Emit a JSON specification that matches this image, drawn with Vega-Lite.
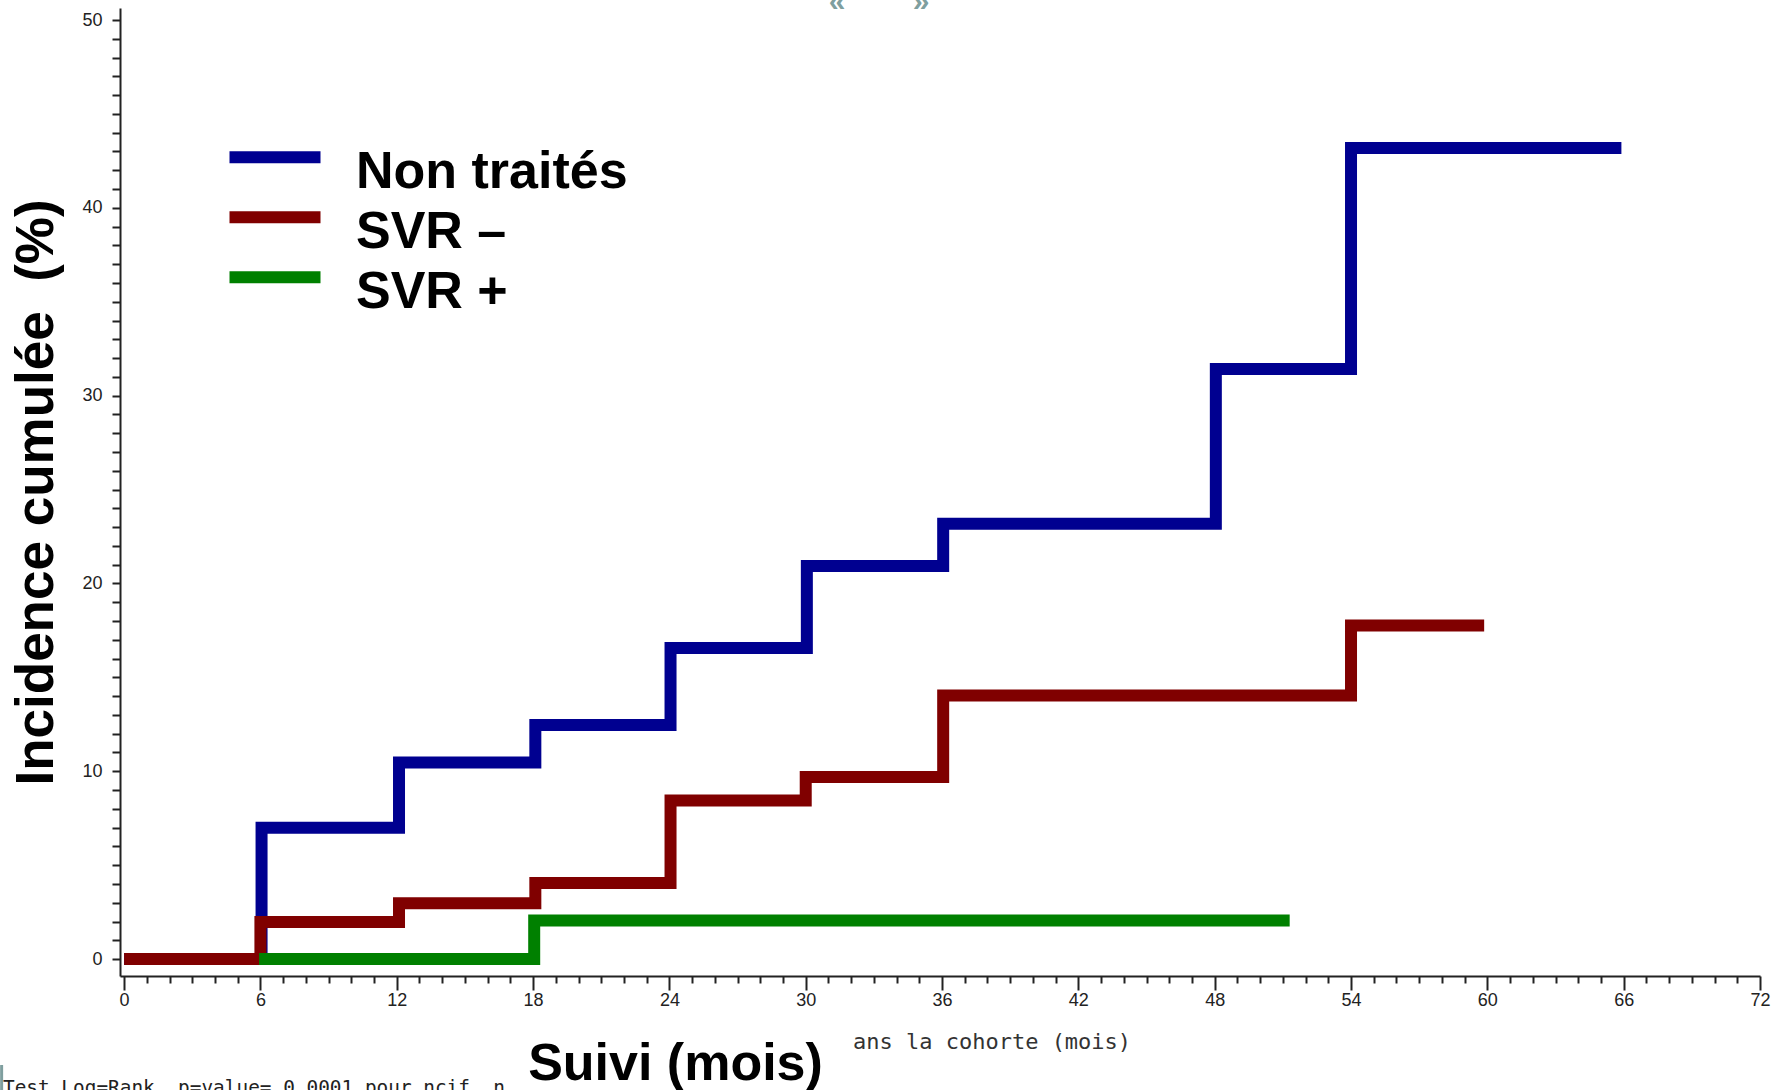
{
  "$schema": "https://vega.github.io/schema/vega-lite/v6.json",
  "width": 1640,
  "height": 968,
  "autosize": {"type": "none"},
  "padding": {"left": 120, "top": 8, "right": 24, "bottom": 114},
  "background": "white",
  "config": {"view": {"stroke": null}, "axis": {"grid": false}},
  "layer": [
    {
      "data": {
        "values": [
          {"groupe": "Non traités", "mois": 0, "pct": 0},
          {"groupe": "Non traités", "mois": 6.05, "pct": 7.0},
          {"groupe": "Non traités", "mois": 12.1, "pct": 10.47},
          {"groupe": "Non traités", "mois": 18.1, "pct": 12.47},
          {"groupe": "Non traités", "mois": 24.05, "pct": 16.57},
          {"groupe": "Non traités", "mois": 30.05, "pct": 20.93},
          {"groupe": "Non traités", "mois": 36.05, "pct": 23.18},
          {"groupe": "Non traités", "mois": 48.05, "pct": 31.42},
          {"groupe": "Non traités", "mois": 54.0, "pct": 43.18},
          {"groupe": "Non traités", "mois": 65.9, "pct": 43.18},
          {"groupe": "SVR –", "mois": 0, "pct": 0},
          {"groupe": "SVR –", "mois": 6.0, "pct": 1.97},
          {"groupe": "SVR –", "mois": 12.1, "pct": 2.98},
          {"groupe": "SVR –", "mois": 18.1, "pct": 4.05},
          {"groupe": "SVR –", "mois": 24.05, "pct": 8.44},
          {"groupe": "SVR –", "mois": 30.0, "pct": 9.69},
          {"groupe": "SVR –", "mois": 36.05, "pct": 14.04},
          {"groupe": "SVR –", "mois": 54.0, "pct": 17.76},
          {"groupe": "SVR –", "mois": 59.86, "pct": 17.76},
          {"groupe": "SVR +", "mois": 5.94, "pct": 0},
          {"groupe": "SVR +", "mois": 18.05, "pct": 2.05},
          {"groupe": "SVR +", "mois": 51.3, "pct": 2.05}
        ]
      },
      "mark": {"type": "line", "interpolate": "step-after", "strokeWidth": 12, "strokeJoin": "miter", "strokeCap": "butt"},
      "encoding": {
        "x": {
          "field": "mois", "type": "quantitative",
          "scale": {"domain": [-0.18, 72], "nice": false, "zero": false},
          "axis": {
            "title": "Suivi (mois)",
            "values": [0,1,2,3,4,5,6,7,8,9,10,11,12,13,14,15,16,17,18,19,20,21,22,23,24,25,26,27,28,29,30,31,32,33,34,35,36,37,38,39,40,41,42,43,44,45,46,47,48,49,50,51,52,53,54,55,56,57,58,59,60,61,62,63,64,65,66,67,68,69,70,71,72],
            "tickCount": 200,
            "format": "d",
            "labelExpr": "datum.value % 6 === 0 ? datum.label : ''",
            "tickSize": {"condition": {"test": "datum.value % 6 === 0", "value": 14}, "value": 7},
            "tickWidth": 2, "tickColor": "#222",
            "domainColor": "#222", "domainWidth": 2,
            "labelFont": "Liberation Sans", "labelFontSize": 18, "labelColor": "#222",
            "labelPadding": 1, "labelOverlap": false, "labelFlush": false,
            "titleFont": "Liberation Sans", "titleFontSize": 52, "titleFontWeight": "bold", "titleColor": "black",
            "titleX": 555, "titleY": 103, "titleAlign": "center", "titleBaseline": "alphabetic"
          }
        },
        "y": {
          "field": "pct", "type": "quantitative",
          "scale": {"domain": [-0.9, 50.64], "nice": false, "zero": false},
          "axis": {
            "title": "Incidence cumulée\u00a0\u00a0(%)",
            "values": [0,1,2,3,4,5,6,7,8,9,10,11,12,13,14,15,16,17,18,19,20,21,22,23,24,25,26,27,28,29,30,31,32,33,34,35,36,37,38,39,40,41,42,43,44,45,46,47,48,49,50],
            "tickCount": 200,
            "format": "d",
            "labelExpr": "datum.value % 10 === 0 ? datum.label : ''",
            "tickSize": 8, "tickWidth": 2, "tickColor": "#222",
            "domainColor": "#222", "domainWidth": 2,
            "labelFont": "Liberation Sans", "labelFontSize": 18, "labelColor": "#222",
            "labelPadding": 10, "labelOverlap": false, "labelFlush": false,
            "titleFont": "Liberation Sans", "titleFontSize": 53, "titleFontWeight": "bold", "titleColor": "black",
            "titleAngle": -90, "titleX": -68, "titleY": 484, "titleAlign": "center", "titleBaseline": "alphabetic"
          }
        },
        "color": {
          "field": "groupe", "type": "nominal",
          "scale": {"domain": ["Non traités", "SVR –", "SVR +"], "range": ["#000090", "#800000", "#008000"]},
          "legend": {
            "orient": "none", "legendX": 129, "legendY": 138, "title": null, "direction": "vertical",
            "symbolType": "M-4.55,-1.47H4.55", "symbolSize": 400, "symbolStrokeWidth": 12,
            "labelFont": "Liberation Sans", "labelFontSize": 52, "labelFontWeight": "bold", "labelColor": "black",
            "labelOffset": 55, "labelLimit": 700, "rowPadding": -5, "padding": 0, "symbolOffset": 0
          }
        }
      }
    },
    {
      "data": {"values": [{"t": "ans la cohorte (mois)"}]},
      "mark": {"type": "text", "font": "DejaVu Sans Mono", "fontSize": 22, "color": "#333", "align": "center", "baseline": "middle"},
      "encoding": {
        "x": {"datum": 38.2, "type": "quantitative"},
        "y": {"datum": -4.42, "type": "quantitative"},
        "text": {"field": "t"}
      }
    },
    {
      "data": {"values": [{"t": "Test Log=Rank\u00a0\u00a0p=value= 0.0001 pour ncif. n"}]},
      "mark": {"type": "text", "font": "DejaVu Sans Mono", "fontSize": 19.4, "color": "#222", "align": "left", "baseline": "alphabetic"},
      "encoding": {
        "x": {"datum": -5.33, "type": "quantitative"},
        "y": {"datum": -7.2, "type": "quantitative"},
        "text": {"field": "t"}
      }
    },
    {
      "data": {"values": [{"a": 1}]},
      "mark": {"type": "rule", "color": "#7f9f9f", "strokeWidth": 3},
      "encoding": {
        "x": {"datum": -5.39, "type": "quantitative"},
        "y": {"datum": -5.64, "type": "quantitative"},
        "y2": {"datum": -7.2}
      }
    },
    {
      "data": {"values": [{"t": "«", "m": 31.38}, {"t": "»", "m": 35.08}]},
      "mark": {"type": "text", "font": "Liberation Sans", "fontSize": 30, "fontWeight": "bold", "color": "#7f9f9f", "align": "center", "baseline": "alphabetic"},
      "encoding": {
        "x": {"field": "m", "type": "quantitative"},
        "y": {"datum": 50.48, "type": "quantitative"},
        "text": {"field": "t"}
      }
    }
  ]
}
